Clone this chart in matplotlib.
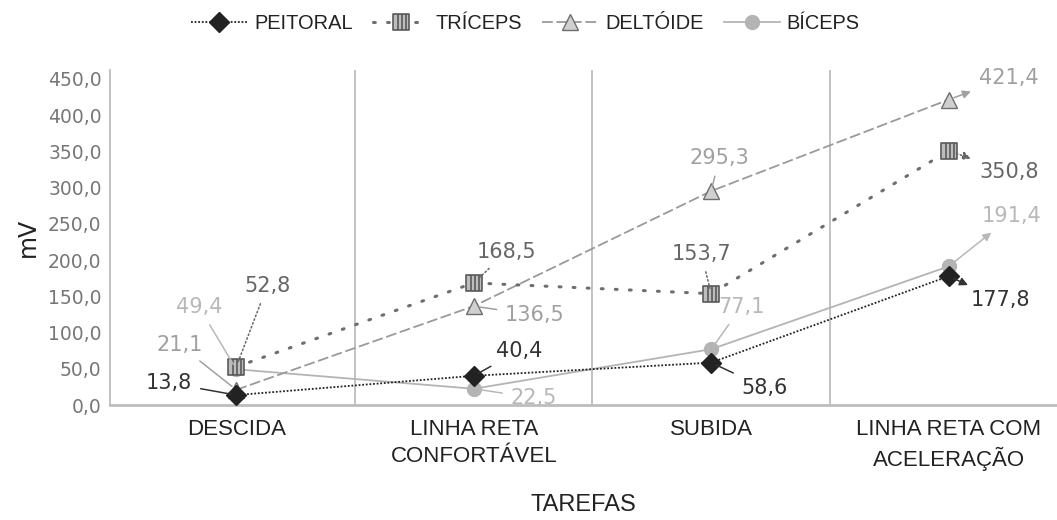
import matplotlib
matplotlib.use("Agg")
import matplotlib.pyplot as plt
from matplotlib.path import Path

categories = ["DESCIDA", "LINHA RETA\nCONFORTÁVEL", "SUBIDA", "LINHA RETA COM\nACELERAÇÃO"]
peitoral = [13.8, 40.4, 58.6, 177.8]
triceps = [52.8, 168.5, 153.7, 350.8]
deltoide = [21.1, 136.5, 295.3, 421.4]
biceps = [49.4, 22.5, 77.1, 191.4]
yticks = [0, 50, 100, 150, 200, 250, 300, 350, 400, 450]

# custom square marker with vertical bars
verts = [(-1, -1), (1, -1), (1, 1), (-1, 1), (-1, -1),
         (-0.4, -1), (-0.4, 1), (0.1, -1), (0.1, 1), (0.6, -1), (0.6, 1)]
codes = [Path.MOVETO, Path.LINETO, Path.LINETO, Path.LINETO, Path.CLOSEPOLY,
         Path.MOVETO, Path.LINETO, Path.MOVETO, Path.LINETO, Path.MOVETO, Path.LINETO]
sq_marker = Path(verts, codes)

SANS = "Liberation Sans"
fig = plt.figure(figsize=(10.57, 5.2), dpi=100)
ax = fig.add_axes([0.104, 0.221, 0.896, 0.644])
x = list(range(len(categories)))

c_pe, c_tr, c_de, c_bi = "#222222", "#6e6e6e", "#9a9a9a", "#b4b4b4"
ax.plot(x, biceps, color=c_bi, lw=1.3, ls="-", marker="o", ms=10, mfc=c_bi, mec=c_bi, zorder=3, label="BÍCEPS")
ax.plot(x, deltoide, color=c_de, lw=1.3, ls=(0, (6, 2)), marker="^", ms=11, mfc="#d0d0d0", mec=c_tr, zorder=3, label="DELTÓIDE")
ax.plot(x, triceps, color=c_tr, lw=2.2, ls=(0, (0.6, 4)), dash_capstyle="round", marker=sq_marker, ms=12,
        mfc="#bdbdbd", mec="#5a5a5a", mew=1.2, zorder=4, label="TRÍCEPS")
ax.plot(x, peitoral, color=c_pe, lw=1.3, ls=(0, (1, 1)), marker="D", ms=10.5, mfc=c_pe, mec=c_pe, zorder=5, label="PEITORAL")

ax.set_xlim(-0.532, 3.456)
ax.set_ylim(0, 462)
ax.set_yticks(yticks)
ax.set_yticklabels([f"{v:.1f}".replace(".", ",") for v in yticks], color="#777777", fontsize=13.5,
                   family="DejaVu Sans")
ax.set_xticks(x)
ax.set_xticklabels(categories, family=SANS, fontsize=16, color="#222222", linespacing=1.35)
ax.tick_params(axis="both", length=0)
ax.tick_params(axis="x", pad=10)
ax.tick_params(axis="y", pad=6)
for b in [0.5, 1.5, 2.5]:
    ax.axvline(b, color="#bdbdbd", lw=1.3, zorder=1)
for s in ["top", "right"]:
    ax.spines[s].set_visible(False)
ax.spines["left"].set_color("#bdbdbd")
ax.spines["left"].set_linewidth(1.3)
ax.spines["bottom"].set_color("#bdbdbd")
ax.spines["bottom"].set_linewidth(2)

ax.set_ylabel("mV", fontsize=17, color="#222222", labelpad=6)
ax.set_xlabel("TAREFAS", family=SANS, fontsize=17, color="#222222", labelpad=17)

label_colors = {"pe": "#333333", "tr": "#666666", "de": "#a0a0a0", "bi": "#b8b8b8"}
series = {"pe": peitoral, "tr": triceps, "de": deltoide, "bi": biceps}
# (dx, dy) pixel offsets of label centre from data point, arrow style
offsets = {
    "pe": [(-67, 12, "-"), (45, 25, "-"), (53, -25, "-"), (52, -24, "<|-")],
    "tr": [(31, 81, "-"), (33, 31, "-"), (-10, 40, "-"), (60, -21, "<|-")],
    "de": [(-57, 45, "-"), (61, -9, "-"), (8, 33, "-"), (60, 22, "<|-")],
    "bi": [(-37, 62, "-"), (60, -9, "-"), (30, 42, "-"), (63, 50, "<|-")],
}
for key, vals in series.items():
    for i, v in enumerate(vals):
        dx, dy, st = offsets[key][i]
        ls = ":" if key == "tr" else "-"
        ax.annotate(f"{v:.1f}".replace(".", ","), xy=(i, v), xytext=(dx, dy), textcoords="offset pixels",
                    ha="center", va="center", fontsize=15, color=label_colors[key], family="DejaVu Sans",
                    arrowprops=dict(arrowstyle=st, color=label_colors[key], lw=1.1, shrinkA=4, shrinkB=4,
                                    mutation_scale=12, linestyle=ls),
                    zorder=6, annotation_clip=False)

handles, labels = ax.get_legend_handles_labels()
order = [3, 2, 1, 0]
fig.legend([handles[i] for i in order], [labels[i] for i in order], loc="center", bbox_to_anchor=(0.497, 0.955),
           ncol=4, frameon=False, prop={"family": SANS, "size": 14.4},
           handlelength=2.8, columnspacing=1.0, handletextpad=0.35, labelcolor="#222222")

fig.savefig("out.png", dpi=100)
